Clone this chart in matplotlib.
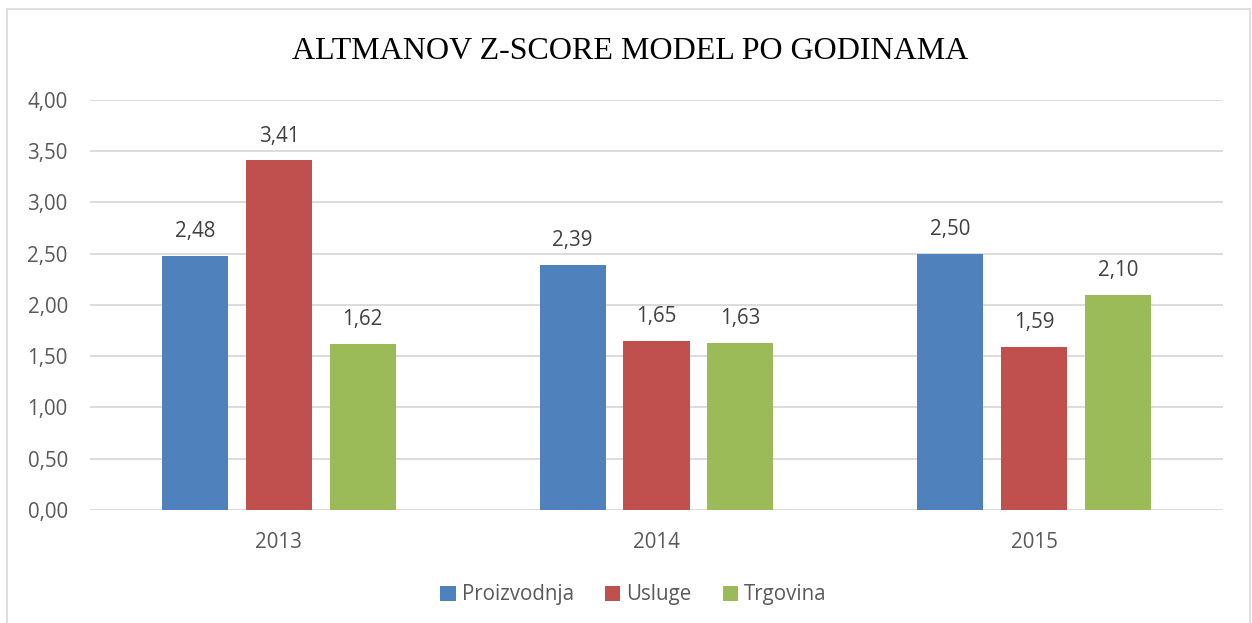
import numpy as np
import matplotlib.pyplot as plt
from matplotlib.patches import Rectangle

years = ["2013", "2014", "2015"]
series = ["Proizvodnja", "Usluge", "Trgovina"]
proizvodnja = [2.48, 2.39, 2.50]
usluge = [3.41, 1.65, 1.59]
trgovina = [1.62, 1.63, 2.10]
colors = ["#4F81BD", "#C0504D", "#9BBB59"]

yticks = [0, 0.5, 1.0, 1.5, 2.0, 2.5, 3.0, 3.5, 4.0]

txt = "#595959"
fs = 14.8
plt.rcParams['font.family'] = ['Open Sans', 'DejaVu Sans']

fig = plt.figure(figsize=(12.52, 6.23), dpi=100)
ax = fig.add_axes([0.0719, 0.1814, 0.9049, 0.6581])

# okvir oko grafikona
fig.patches.append(Rectangle((7 / 1252, -0.01), 1243 / 1252, 1 - 9 / 623 + 0.01,
                             transform=fig.transFigure, fill=False,
                             edgecolor="#D9D9D9", lw=1.2))

x = np.arange(len(years))
w = 0.175
step = 0.222
for i, (vals, name) in enumerate(zip([proizvodnja, usluge, trgovina], series)):
    pos = x + (i - 1) * step
    bars = ax.bar(pos, vals, w, color=colors[i], label=name, zorder=3)
    for b, v in zip(bars, vals):
        ax.annotate(f"{v:.2f}".replace(".", ","), (b.get_x() + b.get_width() / 2, v),
                    xytext=(0, 10), textcoords="offset points", ha="center",
                    va="bottom", fontsize=fs, color="#404040")

ax.set_xlim(-0.5, 2.5)
ax.set_ylim(0, 4)
ax.set_yticks(yticks)
ax.set_yticklabels([f"{t:.2f}".replace(".", ",") for t in yticks])
ax.set_xticks(x)
ax.set_xticklabels(years)
ax.tick_params(axis="both", length=0, labelsize=fs, colors=txt)
ax.tick_params(axis="y", pad=16)
ax.tick_params(axis="x", pad=16)
ax.grid(axis="y", color="#D9D9D9", lw=1.3, zorder=0)
for s in ax.spines.values():
    s.set_visible(False)

fig.text(0.503, 0.918, "ALTMANOV Z-SCORE MODEL PO GODINAMA", ha="center", va="center",
         fontsize=23, family="Liberation Serif", color="black")

fig.legend(loc="center", bbox_to_anchor=(0.506, 0.045), ncol=3, frameon=False,
           fontsize=fs, handlelength=0.75, handleheight=0.75, handletextpad=0.3,
           columnspacing=1.5, labelcolor=txt)

fig.savefig("out.png", dpi=100)
